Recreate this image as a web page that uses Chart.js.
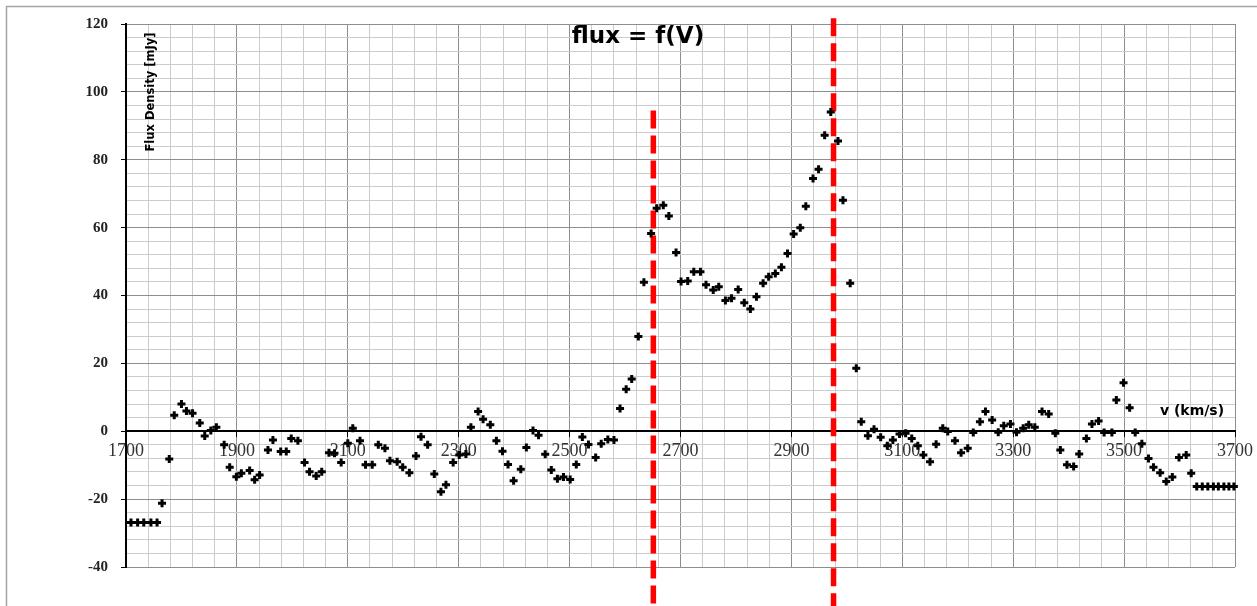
<!DOCTYPE html>
<html>
<head>
<meta charset="utf-8">
<title>flux = f(V)</title>
<script src="https://cdn.jsdelivr.net/npm/chart.js@4.4.1/dist/chart.umd.min.js"></script>
<style>
    html, body { margin: 0; padding: 0; background: #fff; }
    canvas { display: block; }
</style>
</head>
<body>
<canvas id="fluxChart" width="1257" height="606"></canvas>
<script>
// velocity channels (km/s) and flux density (mJy)
const velocity = [
    1709, 1721, 1732, 1745, 1756, 1765, 1778, 1787, 1800, 1809, 1820, 1833, 1842, 1853, 1863, 1877,
    1887, 1899, 1908, 1923, 1932, 1941, 1956, 1965, 1979, 1989, 1998, 2010, 2022, 2031, 2043, 2053,
    2066, 2076, 2088, 2100, 2109, 2122, 2132, 2144, 2155, 2167, 2176, 2189, 2199, 2211, 2223, 2232,
    2244, 2256, 2268, 2277, 2290, 2301, 2313, 2322, 2335, 2344, 2357, 2368, 2379, 2389, 2399, 2412,
    2422, 2434, 2444, 2456, 2467, 2478, 2489, 2501, 2512, 2523, 2534, 2547, 2557, 2569, 2580, 2591,
    2602, 2612, 2624, 2634, 2647, 2657, 2669, 2679, 2692, 2701, 2713, 2724, 2736, 2746, 2759, 2769,
    2781, 2792, 2804, 2815, 2826, 2837, 2849, 2859, 2871, 2882, 2893, 2904, 2916, 2926, 2939, 2949,
    2960, 2971, 2984, 2993, 3006, 3017, 3026, 3038, 3049, 3061, 3073, 3083, 3095, 3106, 3117, 3128,
    3138, 3150, 3161, 3173, 3182, 3195, 3206, 3218, 3228, 3240, 3250, 3262, 3273, 3283, 3295, 3306,
    3318, 3328, 3339, 3352, 3364, 3376, 3385, 3397, 3409, 3419, 3432, 3442, 3454, 3464, 3478, 3486,
    3499, 3510, 3520, 3532, 3544, 3553, 3565, 3576, 3587, 3599, 3612, 3621, 3631, 3641, 3651, 3661,
    3670, 3680, 3689, 3698
];
const flux = [
    -26.9, -26.9, -26.9, -26.9, -26.9, -21.2, -8.2, 4.7, 8.0, 6.0, 5.3, 2.4, -1.4, 0.2, 1.2, -4.0,
    -10.6, -13.4, -12.4, -11.6, -14.3, -12.9, -5.5, -2.6, -6.0, -6.0, -2.1, -2.8, -9.2, -11.9, -13.2, -11.9,
    -6.3, -6.5, -9.2, -3.5, 0.9, -2.8, -9.9, -9.9, -4.0, -5.0, -8.7, -9.0, -10.6, -12.2, -7.3, -1.6,
    -4.0, -12.6, -17.8, -15.8, -9.2, -7.0, -6.7, 1.2, 5.8, 3.5, 1.9, -2.8, -5.9, -9.8, -14.6, -11.2,
    -4.8, 0.2, -1.2, -6.8, -11.4, -14.0, -13.5, -14.2, -9.8, -1.7, -3.9, -7.7, -3.7, -2.4, -2.6, 6.7,
    12.4, 15.4, 27.9, 43.9, 58.3, 65.7, 66.6, 63.4, 52.7, 44.1, 44.3, 47.0, 47.0, 43.2, 41.6, 42.6,
    38.5, 39.2, 41.8, 37.9, 36.0, 39.6, 43.6, 45.5, 46.5, 48.3, 52.4, 58.1, 60.0, 66.3, 74.5, 77.2,
    87.2, 94.1, 85.5, 68.1, 43.6, 18.6, 2.8, -1.3, 0.6, -1.8, -4.3, -2.6, -0.8, -0.6, -2.1, -4.3,
    -7.0, -9.0, -3.8, 0.9, -0.1, -2.8, -6.3, -5.0, -0.4, 2.8, 5.8, 3.3, -0.3, 1.6, 2.1, -0.3,
    0.9, 1.9, 1.2, 5.8, 5.1, -0.6, -5.5, -9.9, -10.4, -6.7, -2.1, 2.1, 3.0, -0.4, -0.4, 9.2,
    14.3, 6.9, -0.4, -3.7, -8.0, -10.6, -12.2, -14.8, -13.5, -7.7, -7.0, -12.4, -16.3, -16.3, -16.3, -16.3,
    -16.3, -16.3, -16.3, -16.3
];

// the two red dashed markers: velocity, top and bottom of the dash
const markerVelocity = [2651, 2976];
const markerTop = [94.5, 121.7];
const markerBottom = [-55, -55];

// labelled ticks
const xLabels = [1700, 1900, 2100, 2300, 2500, 2700, 2900, 3100, 3300, 3500, 3700];
const yLabels = [-40, -20, 0, 20, 40, 60, 80, 100, 120];
const xMinorStep = 40;
const yMinorStep = 4;

const MAJOR_GRID = '#8e8e8e';
const MINOR_GRID = '#cccccc';

function stepTicks(min, max, step) {
    const ticks = [];
    for (let v = min; v <= max + 1e-9; v += step) {
        ticks.push({ value: Math.round(v * 100) / 100 });
    }
    return ticks;
}

const pageFrame = {
    id: 'pageFrame',
    beforeDraw(chart) {
        const ctx = chart.ctx;
        ctx.save();
        ctx.fillStyle = '#fff';
        ctx.fillRect(0, 0, chart.width, chart.height);
        ctx.strokeStyle = '#a4a4a4';
        ctx.lineWidth = 1.5;
        ctx.beginPath();
        ctx.moveTo(6.5, chart.height);
        ctx.lineTo(6.5, 6.5);
        ctx.lineTo(chart.width, 6.5);
        ctx.stroke();
        ctx.restore();
    }
};

const chartTexts = {
    id: 'chartTexts',
    afterDraw(chart) {
        const ctx = chart.ctx;
        ctx.save();
        ctx.fillStyle = '#000';
        ctx.textAlign = 'center';
        ctx.textBaseline = 'middle';

        ctx.font = 'bold 23px "DejaVu Sans"';
        ctx.fillText('flux = f(V)', 638, 37);

        ctx.font = 'bold 14px "DejaVu Sans"';
        ctx.fillText('v (km/s)', 1192, 411);

        ctx.translate(151, 92);
        ctx.rotate(-Math.PI / 2);
        ctx.font = 'bold 11.5px "DejaVu Sans"';
        ctx.fillText('Flux Density [mJy]', 0, 0);
        ctx.restore();
    }
};

const points = velocity.map((v, i) => ({ x: v, y: flux[i] }));

const markerSets = markerVelocity.map((v, i) => ({
    data: [{ x: v, y: markerTop[i] }, { x: v, y: markerBottom[i] }],
    showLine: true,
    borderColor: '#ff0000',
    borderWidth: 5.5,
    borderDash: [18, 7],
    pointRadius: 0,
    clip: false
}));

new Chart(document.getElementById('fluxChart'), {
    type: 'scatter',
    data: {
        datasets: [{
            data: points,
            pointStyle: 'cross',
            pointRadius: 4,
            pointBorderWidth: 3,
            borderColor: '#000',
            backgroundColor: '#000',
            clip: false
        }, ...markerSets]
    },
    options: {
        responsive: false,
        animation: false,
        layout: { padding: { left: 0, top: 24, right: 19, bottom: 39 } },
        plugins: {
            legend: { display: false },
            tooltip: { enabled: false }
        },
        scales: {
            x: {
                type: 'linear',
                min: 1700,
                max: 3700,
                position: { y: 0 },
                afterBuildTicks: scale => { scale.ticks = stepTicks(1700, 3700, xMinorStep); },
                border: { color: '#000', width: 2 },
                grid: {
                    color: c => c.tick.value === 1700 ? 'rgba(0,0,0,0)' :
                        (xLabels.includes(c.tick.value) ? MAJOR_GRID : MINOR_GRID),
                    tickColor: c => xLabels.includes(c.tick.value) ? '#000' : 'rgba(0,0,0,0)',
                    tickLength: 5,
                    lineWidth: 1
                },
                ticks: {
                    autoSkip: false,
                    maxRotation: 0,
                    padding: 4,
                    color: '#333',
                    font: { family: '"Liberation Serif"', size: 18 },
                    callback: v => xLabels.includes(v) ? String(v) : ''
                }
            },
            y: {
                type: 'linear',
                min: -40,
                max: 120,
                afterBuildTicks: scale => { scale.ticks = stepTicks(-40, 120, yMinorStep); },
                afterFit: scale => { scale.width = 126; },
                border: { color: '#000', width: 2 },
                grid: {
                    color: c => c.tick.value === 0 ? 'rgba(0,0,0,0)' :
                        (yLabels.includes(c.tick.value) ? MAJOR_GRID : MINOR_GRID),
                    tickColor: c => yLabels.includes(c.tick.value) ? '#000' : 'rgba(0,0,0,0)',
                    tickLength: 5,
                    lineWidth: 1
                },
                ticks: {
                    autoSkip: false,
                    padding: 13,
                    color: '#222',
                    font: { family: '"Liberation Serif"', size: 15, weight: 'bold' },
                    callback: v => yLabels.includes(v) ? String(v) : ''
                }
            }
        }
    },
    plugins: [pageFrame, chartTexts]
});
</script>
</body>
</html>
